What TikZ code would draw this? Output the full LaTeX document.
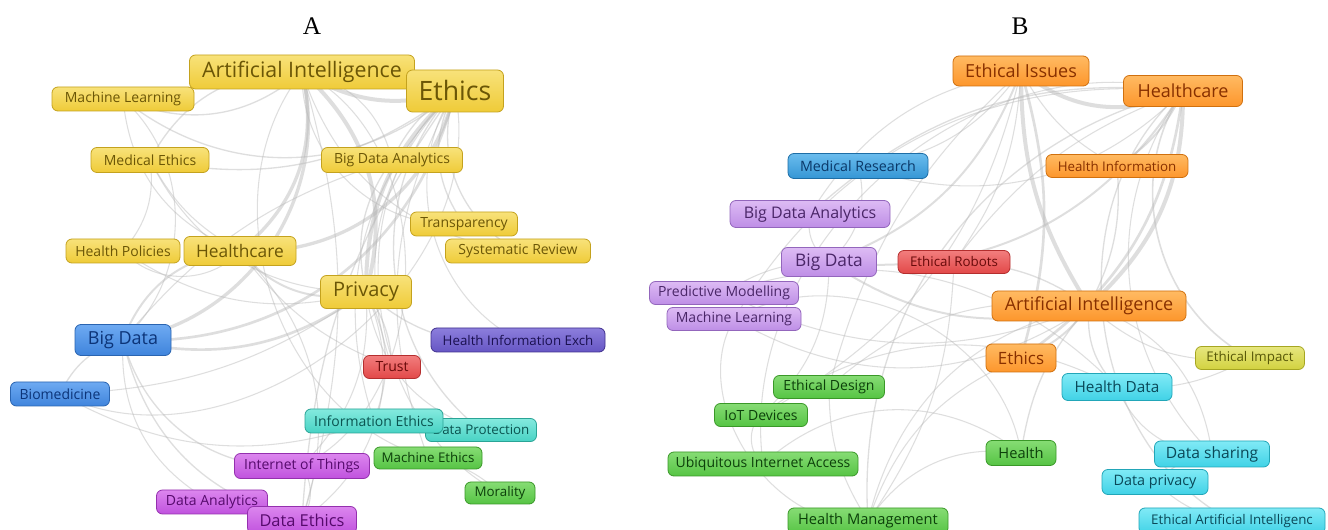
\documentclass[tikz,border=0pt]{standalone}
\usepackage{fontspec}
\setmainfont{Open Sans}
\newfontfamily\titlefont{Liberation Serif}
\pgfdeclarelayer{paper}
\pgfdeclarelayer{edges}
\pgfsetlayers{paper,edges,main}
\definecolor{yelT}{HTML}{F8E27A}\definecolor{yelB}{HTML}{EFCB38}\definecolor{yelD}{HTML}{C4A21E}\definecolor{yelX}{HTML}{6B5606}
\definecolor{bluT}{HTML}{6EAAF2}\definecolor{bluB}{HTML}{3F84DC}\definecolor{bluD}{HTML}{2A64B0}\definecolor{bluX}{HTML}{0C3478}
\definecolor{purT}{HTML}{DDBBF4}\definecolor{purB}{HTML}{BE8EE6}\definecolor{purD}{HTML}{9366BC}\definecolor{purX}{HTML}{4A2668}
\definecolor{magT}{HTML}{DC86EE}\definecolor{magB}{HTML}{C052DE}\definecolor{magD}{HTML}{9430AE}\definecolor{magX}{HTML}{560A6C}
\definecolor{tealT}{HTML}{84EADE}\definecolor{tealB}{HTML}{48D2C4}\definecolor{tealD}{HTML}{2AA496}\definecolor{tealX}{HTML}{0A5450}
\definecolor{grnT}{HTML}{86DC74}\definecolor{grnB}{HTML}{56C444}\definecolor{grnD}{HTML}{3A9828}\definecolor{grnX}{HTML}{0C400A}
\definecolor{redT}{HTML}{F27E7E}\definecolor{redB}{HTML}{E24848}\definecolor{redD}{HTML}{B42E2E}\definecolor{redX}{HTML}{680A0A}
\definecolor{indT}{HTML}{8C7EDC}\definecolor{indB}{HTML}{6656C4}\definecolor{indD}{HTML}{40308E}\definecolor{indX}{HTML}{1A1050}
\definecolor{oraT}{HTML}{FFBA62}\definecolor{oraB}{HTML}{FD962C}\definecolor{oraD}{HTML}{D0700E}\definecolor{oraX}{HTML}{883000}
\definecolor{cyaT}{HTML}{80EAF6}\definecolor{cyaB}{HTML}{40D2E6}\definecolor{cyaD}{HTML}{22A6B8}\definecolor{cyaX}{HTML}{0A4858}
\definecolor{oliT}{HTML}{E6E67E}\definecolor{oliB}{HTML}{D2D240}\definecolor{oliD}{HTML}{A6A622}\definecolor{oliX}{HTML}{585808}
\definecolor{mblT}{HTML}{6ABCEE}\definecolor{mblB}{HTML}{3596D4}\definecolor{mblD}{HTML}{1E6EA6}\definecolor{mblX}{HTML}{0A3868}
\definecolor{edgecol}{HTML}{B8B8B8}
\tikzset{
  kw/.style={rounded corners=4.5pt, draw, line width=0.6pt, inner sep=0pt},
  sz/.style 2 args={minimum width=#1*0.75pt, minimum height=#2*0.75pt},
  fs/.style={font=\fontsize{#1}{#1}\selectfont},
  yel/.style={kw, top color=yelT, bottom color=yelB, draw=yelD, text=yelX},
  blu/.style={kw, top color=bluT, bottom color=bluB, draw=bluD, text=bluX},
  pur/.style={kw, top color=purT, bottom color=purB, draw=purD, text=purX},
  mag/.style={kw, top color=magT, bottom color=magB, draw=magD, text=magX},
  tea/.style={kw, top color=tealT, bottom color=tealB, draw=tealD, text=tealX},
  grn/.style={kw, top color=grnT, bottom color=grnB, draw=grnD, text=grnX},
  rdd/.style={kw, top color=redT, bottom color=redB, draw=redD, text=redX},
  ind/.style={kw, top color=indT, bottom color=indB, draw=indD, text=indX},
  ora/.style={kw, top color=oraT, bottom color=oraB, draw=oraD, text=oraX},
  cya/.style={kw, top color=cyaT, bottom color=cyaB, draw=cyaD, text=cyaX},
  oli/.style={kw, top color=oliT, bottom color=oliB, draw=oliD, text=oliX},
  mbl/.style={kw, top color=mblT, bottom color=mblB, draw=mblD, text=mblX},
  link/.style={draw=edgecol, draw opacity=0.45},
  ttl/.style={font=\titlefont\fontsize{19}{19}\selectfont, inner sep=0pt}
}
\begin{document}
\begin{tikzpicture}[x=0.75pt,y=-0.75pt]
\begin{pgfonlayer}{paper}
\fill[white] (0,0) rectangle (1328,530);
\end{pgfonlayer}
\useasboundingbox (0,0) rectangle (1328,530);
% titles
\node[ttl] (tA) at (312,26) {A};
\node[ttl] (tB) at (1020,26) {B};
% ---------- panel A nodes
\node[yel,sz={225}{34},fs=16] (aAI) at (302,72) {Artificial Intelligence};
\node[yel,sz={97}{42},fs=20] (aEth) at (455,91) {Ethics};
\node[yel,sz={142}{24},fs=10.5] (aML) at (123,99) {Machine Learning};
\node[yel,sz={118}{25},fs=10.5] (aMedE) at (150,160) {Medical Ethics};
\node[yel,sz={141}{25},fs=10.5] (aBDA) at (392,160) {Big Data Analytics};
\node[yel,sz={107}{24},fs=10.5] (aTra) at (464,224) {Transparency};
\node[yel,sz={145}{24},fs=10.5] (aSR) at (518,251) {Systematic Review};
\node[yel,sz={114}{24},fs=10.5] (aHP) at (123,251) {Health Policies};
\node[yel,sz={112}{29},fs=13] (aHC) at (240,251) {Healthcare};
\node[yel,sz={91}{33},fs=15] (aPri) at (366,292) {Privacy};
\node[blu,sz={96}{31},fs=13.5] (aBD) at (123,340) {Big Data};
\node[ind,sz={174}{24},fs=10] (aHIE) at (518,340) {Health Information Exch};
\node[rdd,sz={57}{23},fs=10.5] (aTr) at (392,367) {Trust};
\node[blu,sz={99}{24},fs=10.5] (aBio) at (60,394) {Biomedicine};
\node[tea,sz={111}{23},fs=10] (aDP) at (481,430) {Data Protection};
\node[tea,sz={138}{24},fs=10.5] (aIE) at (374,421) {Information Ethics};
\node[grn,sz={108}{22},fs=10] (aME) at (428,458) {Machine Ethics};
\node[mag,sz={135}{25},fs=10.5] (aIoT) at (302,466) {Internet of Things};
\node[grn,sz={70}{22},fs=10] (aMor) at (500,493) {Morality};
\node[mag,sz={111}{24},fs=10.5] (aDA) at (212,502) {Data Analytics};
\node[mag,sz={109}{27},fs=12.3] (aDE) at (302,520) {Data Ethics};
% ---------- panel B nodes
\node[ora,sz={136}{30},fs=13.5] (bEI) at (1021,71) {Ethical Issues};
\node[ora,sz={119}{31},fs=13.5] (bHC) at (1183,91) {Healthcare};
\node[mbl,sz={140}{25},fs=10.7] (bMR) at (858,166) {Medical Research};
\node[ora,sz={142}{23},fs=10] (bHI) at (1117,166) {Health Information};
\node[pur,sz={160}{27},fs=12] (bBDA) at (810,214) {Big Data Analytics};
\node[pur,sz={95}{29},fs=13] (bBD) at (829,262) {Big Data};
\node[rdd,sz={112}{23},fs=10] (bER) at (954,262) {Ethical Robots};
\node[pur,sz={149}{23},fs=10.5] (bPM) at (724,293) {Predictive Modelling};
\node[pur,sz={134}{23},fs=10.5] (bML) at (734,319) {Machine Learning};
\node[ora,sz={194}{30},fs=13.5] (bAI) at (1089,306) {Artificial Intelligence};
\node[ora,sz={70}{28},fs=12.7] (bEth) at (1021,358) {Ethics};
\node[oli,sz={109}{23},fs=10] (bEImp) at (1250,358) {Ethical Impact};
\node[grn,sz={111}{23},fs=10.5] (bED) at (829,387) {Ethical Design};
\node[cya,sz={110}{27},fs=11.5] (bHD) at (1117,387) {Health Data};
\node[grn,sz={93}{23},fs=10.5] (bIoT) at (761,415) {IoT Devices};
\node[grn,sz={190}{24},fs=10.5] (bUIA) at (763,464) {Ubiquitous Internet Access};
\node[grn,sz={70}{25},fs=11] (bH) at (1021,453) {Health};
\node[cya,sz={115}{26},fs=11.7] (bDS) at (1212,454) {Data sharing};
\node[cya,sz={106}{25},fs=10.8] (bDPr) at (1155,482) {Data privacy};
\node[grn,sz={160}{26},fs=11] (bHM) at (868,521) {Health Management};
\node[cya,sz={186}{26},fs=10] (bEAI) at (1232,521) {Ethical Artificial Intelligenc};
% ---------- links
\begin{pgfonlayer}{edges}
\foreach \p/\q/\w/\bb in {
aAI/aEth/3/-15, aAI/aPri/3/20, aEth/aPri/3/-15, aAI/aHC/2.5/20, aEth/aHC/2.5/25,
aAI/aBD/2.5/30, aEth/aBD/2/25, aPri/aBD/2/15, aHC/aPri/1.5/-20, aAI/aML/1/20,
aEth/aML/1/25, aAI/aMedE/1/-20, aEth/aMedE/1/15, aHC/aMedE/0.8/10, aMedE/aHP/0.8/15,
aHC/aHP/0.8/30, aEth/aBDA/1/-10, aAI/aBDA/0.8/20, aPri/aBDA/1/15, aEth/aTra/1/-20,
aAI/aTra/0.8/-30, aEth/aSR/1/-25, aAI/aSR/0.8/-20, aPri/aHIE/1/-15, aPri/aTr/1/10,
aEth/aTr/0.8/-20, aBD/aBio/1/-15, aEth/aBio/0.8/40, aPri/aIE/1/15, aEth/aIE/0.8/-20,
aPri/aDP/0.8/-20, aEth/aDP/1/-30, aAI/aME/0.8/-35, aEth/aME/0.8/-15, aEth/aMor/0.8/-35,
aME/aMor/0.8/10, aBD/aIoT/1/-25, aPri/aIoT/0.8/15, aBD/aDA/0.8/-20, aBD/aDE/1/-20,
aPri/aDE/0.8/25, aEth/aDE/1/-10, aAI/aDE/0.8/10, aIoT/aDE/0.8/20, aDA/aDE/0.8/10,
aHC/aBD/1.5/-20, aML/aHC/0.8/-20, aBio/aPri/0.8/-10, aHP/aPri/0.8/-15, aML/aBD/0.8/30,
aMedE/aPri/0.8/-20, aBio/aIE/0.8/-15, aHC/aDE/0.8/20, aAI/aIoT/0.8/40, aHC/aTr/0.8/-10,
aBDA/aBD/0.8/-10, aEth/aHIE/0.8/-30,
bEI/bHC/3/-20, bEI/bAI/3/-10, bHC/bAI/3/15, bHC/bHI/1.5/10, bEI/bEth/2/10,
bHC/bEth/2/15, bHC/bBD/1.5/20, bEI/bBD/1.5/15, bEI/bMR/0.8/15, bHC/bMR/0.8/20,
bBDA/bHC/1/15, bBDA/bEI/0.8/15, bBD/bAI/1.5/-15, bER/bAI/1/10, bER/bEI/0.8/-10,
bER/bHC/0.8/10, bPM/bAI/0.8/-15, bPM/bBD/0.8/10, bML/bAI/0.8/-20, bML/bHC/0.8/20,
bML/bHM/0.8/-40, bED/bAI/0.8/15, bED/bEI/0.8/10, bIoT/bBD/0.8/-15, bIoT/bHD/0.8/20,
bUIA/bIoT/0.8/30, bUIA/bH/0.8/25, bH/bAI/1/10, bH/bHM/0.8/-20, bHD/bAI/1/15,
bHD/bDS/0.8/-20, bDS/bHC/0.8/25, bDS/bAI/0.8/-20, bDPr/bEAI/0.8/-10, bDPr/bDS/0.8/10,
bEImp/bHD/0.8/10, bEImp/bHC/1.2/30, bEImp/bAI/0.8/15, bHM/bER/0.8/-10, bHM/bAI/0.8/20,
bEth/bHM/0.8/-15, bHC/bEAI/1/-35, bHI/bAI/1/10, bHI/bEI/0.8/10, bBDA/bBD/0.8/-20,
bMR/bBD/0.8/20, bEth/bAI/1.5/-10, bUIA/bHC/0.8/35, bHM/bHC/1/25, bIoT/bEI/0.8/-15,
bED/bHM/0.8/-10, bPM/bHD/0.8/20, bML/bH/0.8/35}
  {\pgfmathsetmacro\ang{\bb*1.6}
   \draw[link, line width=\w pt] (\p.center) to[bend left=\ang] (\q.center);}
\end{pgfonlayer}
\end{tikzpicture}
\end{document}
